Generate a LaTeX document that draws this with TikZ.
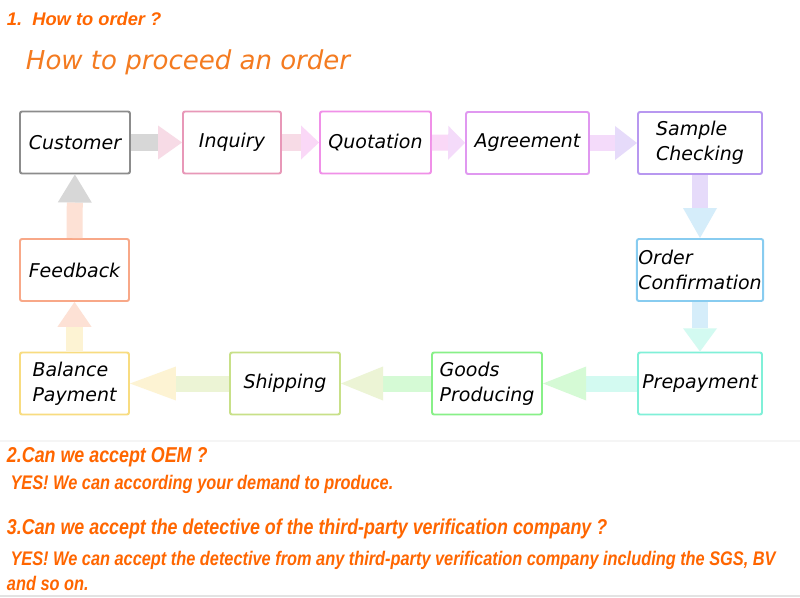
\documentclass[tikz,border=0pt]{standalone}
\usepackage{fontspec}
\usepackage{tikz}
\usetikzlibrary{arrows.meta}
\newfontfamily\boxfont{DejaVu Sans}
\newfontfamily\headfont{Liberation Sans}
\newfontfamily\narrowfont{Liberation Sans}[FakeStretch=0.83]
\definecolor{qorange}{HTML}{FF6600}
\definecolor{torange}{HTML}{F47B20}
\definecolor{custline}{HTML}{8C8C8C}
\definecolor{inqline}{HTML}{E898B8}
\definecolor{quotline}{HTML}{F090E8}
\definecolor{agrline}{HTML}{E098F0}
\definecolor{sampline}{HTML}{B898F0}
\definecolor{ordline}{HTML}{88CCF0}
\definecolor{prepline}{HTML}{80F0D8}
\definecolor{goodsline}{HTML}{88F088}
\definecolor{shipline}{HTML}{C8E088}
\definecolor{balline}{HTML}{F8DC80}
\definecolor{feedline}{HTML}{F8A888}

\begin{document}
\begin{tikzpicture}[x=0.025cm,y=-0.025cm,
    stepbox/.style={draw,line width=1.4pt,rounded corners=1.5pt,fill=white,
      minimum height=1.55cm,align=left,inner sep=1pt,
      font=\boxfont\itshape\fontsize{13.5}{17.8}\selectfont},
    flowarrow/.style={line width=0.4cm},
    qline/.style={anchor=base west,text=qorange,
      font=\narrowfont\bfseries\itshape\fontsize{15.3}{18}\selectfont},
    aline/.style={anchor=base west,text=qorange,
      font=\narrowfont\bfseries\itshape\fontsize{14}{16}\selectfont}]
  \useasboundingbox (0,0) rectangle (800,597);
  \fill[white] (0,0) rectangle (800,597);
  \draw[gray!8,line width=1pt] (0,441) -- (800,441);
  \fill[gray!22] (0,595) rectangle (800,597);

  \node[anchor=base west,text=qorange,font=\headfont\bfseries\itshape\fontsize{13}{15}\selectfont]
    (q1) at (2,26) {1.\ \ How to order ?};
  \node[anchor=base west,text=torange,font=\boxfont\itshape\fontsize{18.5}{22}\selectfont]
    (title) at (21,70) {How to proceed an order};

  \foreach \nm/\cx/\cy/\w/\col/\txt in {
      cust/75/142.5/110/custline/Customer,
      inq/232/142.5/98/inqline/Inquiry,
      quot/375.5/142.5/111/quotline/Quotation,
      agr/527.5/143/123/agrline/Agreement,
      samp/700/143/124/sampline/{Sample\\Checking},
      ord/700/270/124/ordline/{Order\\Confirmation},
      prep/700/383.5/124/prepline/Prepayment,
      goods/487/383.5/110/goodsline/{Goods\\Producing},
      ship/285/383.5/110/shipline/Shipping,
      bal/74.5/383.5/109/balline/{Balance\\Payment},
      feed/74.5/270/109/feedline/Feedback} {
    \node[stepbox,draw=\col,minimum width=\w*0.025cm] (\nm) at (\cx,\cy) {\txt};
  }

  \foreach \a/\b/\ca/\cb/\hl in {
      cust/inq/custline/inqline/0.6cm,
      inq/quot/inqline/quotline/0.45cm,
      quot/agr/quotline/agrline/0.42cm,
      agr/samp/agrline/sampline/0.55cm,
      samp/ord/sampline/ordline/0.75cm,
      ord/prep/ordline/prepline/0.58cm,
      prep/goods/prepline/goodsline/1.08cm,
      goods/ship/goodsline/shipline/1.05cm,
      ship/bal/shipline/balline/1.15cm,
      bal/feed/balline/feedline/0.62cm,
      feed/cust/feedline/custline/0.7cm} {
    \draw[flowarrow,draw=\ca!35,-{Triangle[length=\hl,width=0.85cm,color=\cb!35,line width=0pt]}] (\a) -- (\b);
  }

  \node[qline] (q2) at (2,462) {2.Can we accept OEM ?};
  \node[aline] (a2) at (1,489) {\ YES! We can according your demand to produce.};
  \node[qline] (q3) at (2,534) {3.Can we accept the detective of the third-party verification company ?};
  \node[aline] (a3) at (1,565) {\ YES! We can accept the detective from any third-party verification company including the SGS, BV};
  \node[aline] (a3b) at (2,590) {and so on.};
\end{tikzpicture}
\end{document}
